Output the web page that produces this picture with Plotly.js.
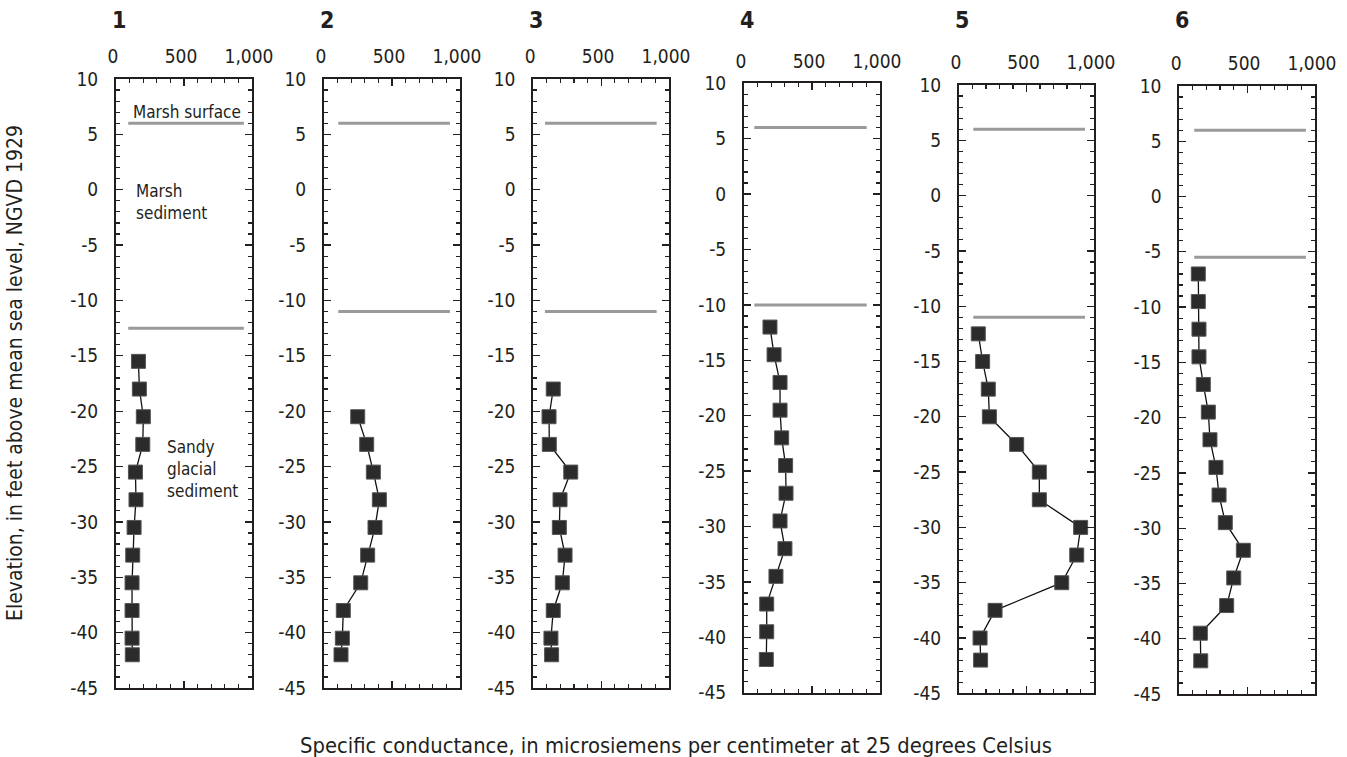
<!DOCTYPE html>
<html>
<head>
<meta charset="utf-8">
<script src="https://cdn.plot.ly/plotly-3.0.1.min.js"></script>
<style>html,body{margin:0;padding:0;background:#fff;}#chart{width:1347px;height:757px;}</style>
</head>
<body>
<div id="chart"></div>
<script>
// ---- data ----
const panelNames = ["1", "2", "3", "4", "5", "6"];

const elev1 = [-15.5, -18, -20.5, -23, -25.5, -28, -30.5, -33, -35.5, -38, -40.5, -42];
const cond1 = [165, 172, 201, 197, 143, 147, 133, 123, 118, 118, 118, 120];

const elev2 = [-20.5, -23, -25.5, -28, -30.5, -33, -35.5, -38, -40.5, -42];
const cond2 = [248, 314, 363, 407, 375, 321, 270, 142, 135, 125];

const elev3 = [-18, -20.5, -23, -25.5, -28, -30.5, -33, -35.5, -38, -40.5, -42];
const cond3 = [147, 116, 118, 276, 197, 192, 234, 214, 147, 130, 135];

const elev4 = [-12, -14.5, -17, -19.5, -22, -24.5, -27, -29.5, -32, -34.5, -37, -39.5, -42];
const cond4 = [191, 221, 265, 265, 277, 306, 309, 265, 301, 235, 167, 167, 164];

const elev5 = [-12.5, -15, -17.5, -20, -22.5, -25, -27.5, -30, -32.5, -35, -37.5, -40, -42];
const cond5 = [143, 175, 217, 225, 427, 595, 595, 901, 872, 761, 267, 156, 160];

const elev6 = [-7, -9.5, -12, -14.5, -17, -19.5, -22, -24.5, -27, -29.5, -32, -34.5, -37, -39.5, -42];
const cond6 = [140, 140, 145, 145, 177, 214, 226, 270, 293, 339, 472, 401, 349, 155, 158];

// marsh surface and base of marsh sediment (elevation, ft) per panel
const marshSurface = [6, 6, 6, 6, 6, 6];
const marshBase = [-12.5, -11, -11, -10, -11, -5.5];
// horizontal extent of those boundary lines (conductance units)
const boundaryStart = [90, 105, 86, 76, 106, 110];
const boundaryEnd = [940, 926, 909, 902, 933, 933];

const xTickVals = [0, 500, 1000];
const xTickText = ["0", "500", "1,000"];
const yTickVals = [10, 5, 0, -5, -10, -15, -20, -25, -30, -35, -40, -45];
const yTickText = ["10", "5", "0", "-5", "-10", "-15", "-20", "-25", "-30", "-35", "-40", "-45"];

const elevs = [elev1, elev2, elev3, elev4, elev5, elev6];
const conds = [cond1, cond2, cond3, cond4, cond5, cond6];

// ---- layout geometry (pixels in the 1347x757 frame) ----
const W = 1347, H = 757;
const boxes = [
  [116, 252, 79, 688],
  [324, 460, 79, 688],
  [533.3, 669, 79, 688],
  [744, 880, 83.3, 692.7],
  [959, 1094, 85, 693.3],
  [1179.3, 1315, 86, 694]
];

const FONT = "'DejaVu Sans Condensed', 'Liberation Sans Narrow', sans-serif";
const INK = "#231f20";

const traces = [];
const layout = {
  width: W, height: H,
  margin: {l: 0, r: 0, t: 0, b: 0},
  paper_bgcolor: "#fff",
  plot_bgcolor: "#fff",
  showlegend: false,
  font: {family: FONT, color: INK, size: 16},
  annotations: [],
};

for (let i = 0; i < 6; i++) {
  const n = i + 1;
  const xa = "x" + (n === 1 ? "" : n);
  const ya = "y" + (n === 1 ? "" : n);
  const b = boxes[i];

  // boundary lines
  traces.push({
    type: "scatter", mode: "lines", xaxis: xa, yaxis: ya,
    x: [boundaryStart[i], boundaryEnd[i]], y: [marshSurface[i], marshSurface[i]],
    line: {color: "#9a9a9a", width: 3}, hoverinfo: "skip"
  });
  traces.push({
    type: "scatter", mode: "lines", xaxis: xa, yaxis: ya,
    x: [boundaryStart[i], boundaryEnd[i]], y: [marshBase[i], marshBase[i]],
    line: {color: "#9a9a9a", width: 3}, hoverinfo: "skip"
  });
  // profile
  traces.push({
    type: "scatter", mode: "lines+markers", xaxis: xa, yaxis: ya,
    x: conds[i], y: elevs[i],
    line: {color: "#111", width: 1.3},
    marker: {symbol: "square", size: 14, color: "#2b2b2b", line: {color: "#555", width: 1}}
  });

  const axX = {
    domain: [b[0] / W, b[1] / W],
    anchor: ya,
    range: [0, 1000],
    side: "top",
    tickmode: "array", tickvals: xTickVals, ticktext: xTickText,
    ticks: "inside", ticklen: 7, tickwidth: 1.3, tickcolor: INK,
    showline: true, linecolor: INK, linewidth: 2, mirror: "ticks",
    showgrid: false, zeroline: false, fixedrange: true,
    tickfont: {family: FONT, size: 19, color: INK},
    ticklabelshift: -3,
    ticklabelstandoff: 6,
    minor: {tickmode: "linear", tick0: 0, dtick: 100, ticks: "inside", ticklen: 4, tickwidth: 1.2, tickcolor: INK, showgrid: false}
  };
  const axY = {
    domain: [1 - b[3] / H, 1 - b[2] / H],
    anchor: xa,
    range: [-45, 10],
    tickmode: "array", tickvals: yTickVals, ticktext: yTickText,
    ticks: "inside", ticklen: 7, tickwidth: 1.3, tickcolor: INK,
    showline: true, linecolor: INK, linewidth: 2, mirror: "ticks",
    showgrid: false, zeroline: false, fixedrange: true,
    tickfont: {family: FONT, size: 19, color: INK},
    ticklabelstandoff: 12,
    minor: {tickmode: "linear", tick0: 0, dtick: 1, ticks: "inside", ticklen: 4, tickwidth: 1.2, tickcolor: INK, showgrid: false}
  };
  layout["xaxis" + (n === 1 ? "" : n)] = axX;
  layout["yaxis" + (n === 1 ? "" : n)] = axY;

  // panel number
  layout.annotations.push({
    xref: "paper", yref: "paper",
    x: (b[0] - 6) / W, y: 1 - 20 / H,
    xanchor: "left", yanchor: "middle",
    text: "<b>" + panelNames[i] + "</b>", showarrow: false,
    font: {family: FONT, size: 23, color: INK}
  });
}

// zone labels in panel 1
layout.annotations.push(
  {xref: "x", yref: "y", x: 525, y: 7.0, text: "Marsh surface", showarrow: false,
   xanchor: "center", yanchor: "middle", font: {family: FONT, size: 17, color: INK}},
  {xref: "x", yref: "y", x: 130, y: -1.1, text: "Marsh<br>sediment", showarrow: false,
   xanchor: "left", yanchor: "middle", align: "left", font: {family: FONT, size: 17, color: INK}},
  {xref: "x", yref: "y", x: 360, y: -25.2, text: "Sandy<br>glacial<br>sediment", showarrow: false,
   xanchor: "left", yanchor: "middle", align: "left", font: {family: FONT, size: 17, color: INK}}
);

// axis titles
layout.annotations.push(
  {xref: "paper", yref: "paper", x: 15 / W, y: 1 - 373 / H, textangle: -90,
   text: "Elevation, in feet above mean sea level, NGVD 1929", showarrow: false,
   xanchor: "center", yanchor: "middle", font: {family: FONT, size: 21, color: INK}},
  {xref: "paper", yref: "paper", x: 676 / W, y: 1 - 745 / H,
   text: "Specific conductance, in microsiemens per centimeter at 25 degrees Celsius", showarrow: false,
   xanchor: "center", yanchor: "middle", font: {family: FONT, size: 21.8, color: INK}}
);

Plotly.newPlot("chart", traces, layout, {displayModeBar: false, staticPlot: true});
</script>
</body>
</html>
